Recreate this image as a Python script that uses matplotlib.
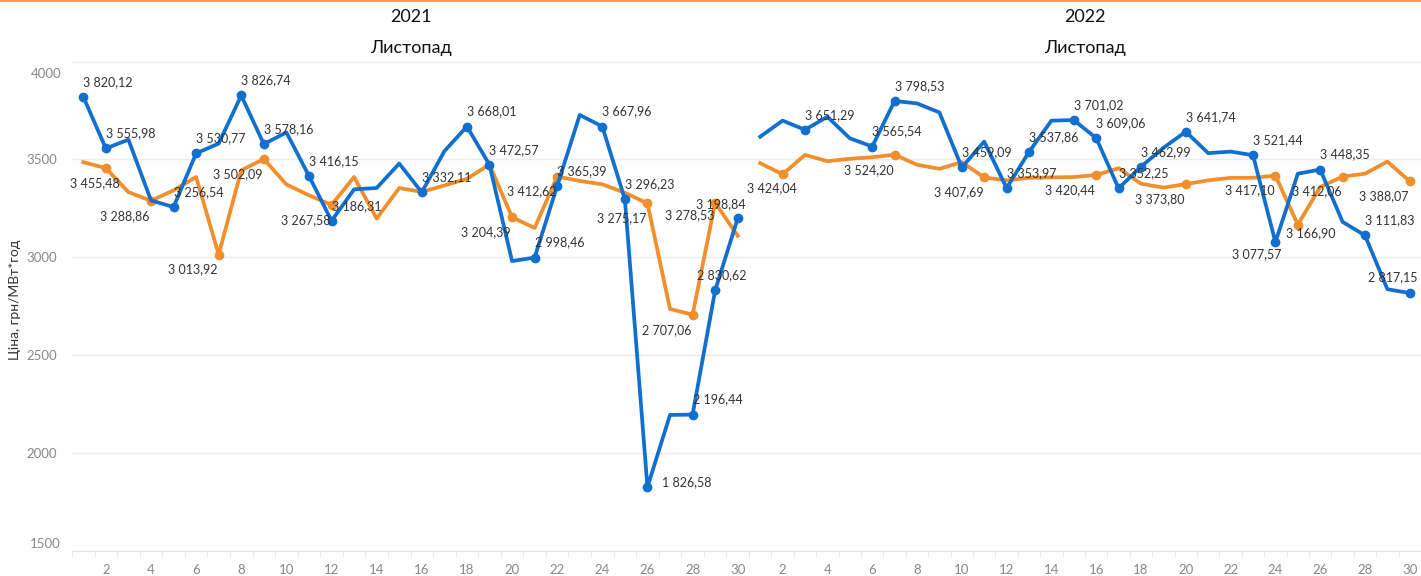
import matplotlib
matplotlib.use('Agg')
import matplotlib.pyplot as plt
from matplotlib.lines import Line2D

plt.rcParams['font.family'] = ['Lato', 'DejaVu Sans']

# data: daily price, November 2021 / November 2022
days = list(range(1, 31))

blue_2021 = [3820.12, 3555.98, 3601, 3291, 3256.54, 3530.77, 3581, 3826.74, 3578.16, 3638,
             3416.15, 3186.31, 3347, 3354, 3479, 3332.11, 3542, 3668.01, 3472.57, 2981,
             2998.46, 3365.39, 3727, 3667.96, 3296.23, 1826.58, 2195, 2196.44, 2830.62, 3198.84]
orange_2021 = [3486, 3455.48, 3333, 3288.86, 3342, 3410, 3013.92, 3444, 3502.09, 3372,
               3317, 3267.58, 3410, 3198, 3354, 3334, 3367, 3401, 3474, 3204.39,
               3150, 3412.62, 3390, 3373, 3330, 3275.17, 2736, 2707.06, 3278.53, 3110]

blue_2022 = [3616, 3698, 3651.29, 3718, 3608, 3565.54, 3798.53, 3786, 3740, 3459.09,
             3591, 3353.97, 3537.86, 3698, 3701.02, 3609.06, 3352.25, 3462.99, 3559, 3641.74,
             3532, 3540, 3521.44, 3077.57, 3427, 3448.35, 3181, 3111.83, 2837, 2817.15]
orange_2022 = [3481, 3424.04, 3523, 3491, 3503, 3511, 3524.20, 3473, 3452, 3486,
               3407.69, 3393, 3406, 3408, 3410, 3420.44, 3455, 3376, 3356, 3373.80,
               3393, 3406, 3406, 3417.10, 3166.90, 3359, 3412.06, 3427, 3489, 3388.07]

# days that carry a marker and a value label
blue_2021_lab = [1, 2, 5, 6, 8, 9, 11, 12, 16, 18, 19, 21, 22, 24, 25, 26, 28, 29, 30]
orange_2021_lab = [2, 4, 7, 9, 12, 20, 22, 26, 28, 29]
blue_2022_lab = [3, 6, 7, 10, 12, 13, 15, 16, 17, 18, 20, 23, 24, 26, 28, 30]
orange_2022_lab = [2, 7, 11, 16, 20, 24, 25, 27, 30]

years = ['2021', '2022']
month = 'Листопад'
ylabel = 'Ціна, грн/МВт*год'

BLUE = '#1170CF'
ORANGE = '#F28E2B'

# label placement: (dx px, dy px downwards, alignment)
default_pos = {'blue': (0, -15, 'left'), 'orange': (-1, 15, 'right')}
special_pos = {
    ('2021', 'blue', 26): (15, -5, 'left'),
    ('2021', 'blue', 29): (7, -15, 'center'),
    ('2021', 'blue', 30): (8, -14, 'right'),
    ('2021', 'orange', 2): (14, 15, 'right'),
    ('2021', 'orange', 29): (-1, 12, 'right'),
    ('2022', 'blue', 24): (6, 12, 'right'),
    ('2022', 'blue', 30): (8, -16, 'right'),
    ('2022', 'orange', 2): (14, 14, 'right'),
    ('2022', 'orange', 25): (-12, 9, 'left'),
}


def fmt(v):
    return f'{v:,.2f}'.replace(',', ' ').replace('.', ',')


def draw_series(ax, year, name, values, lab_days, color, z):
    ax.plot(days, values, color=color, lw=2.7, zorder=z, solid_joinstyle='round')
    xs = [d for d in lab_days]
    ys = [values[d - 1] for d in lab_days]
    ax.plot(xs, ys, 'o', color=color, ms=6, zorder=z)
    for d, v in zip(xs, ys):
        dx, dy, ha = special_pos.get((year, name, d), default_pos[name])
        ax.annotate(fmt(v), xy=(d, v), xytext=(dx, -dy), textcoords='offset pixels',
                    ha=ha, va='center', fontsize=9, color='#333333', zorder=6)


W, H = 1421, 576
fig = plt.figure(figsize=(W / 100, H / 100), dpi=100)
fig.add_artist(Line2D([0, 1], [1 - 1 / H] * 2, transform=fig.transFigure,
                      color='#F4A24C', lw=1.5))

y0, y1 = 551, 57.6
boxes = [(72, 749), (749, 1421)]
series = [(blue_2021, orange_2021, blue_2021_lab, orange_2021_lab),
          (blue_2022, orange_2022, blue_2022_lab, orange_2022_lab)]

for i, ((xl, xr), (b, o, bl, ol)) in enumerate(zip(boxes, series)):
    ax = fig.add_axes([xl / W, 1 - y0 / H, (xr - xl) / W, (y0 - y1) / H])
    draw_series(ax, years[i], 'orange', o, ol, ORANGE, 3)
    draw_series(ax, years[i], 'blue', b, bl, BLUE, 4)
    ax.set_xlim(0.5, 30.5)
    ax.set_ylim(1500, 4020)
    ax.set_yticks([1500, 2000, 2500, 3000, 3500, 4000])
    ax.grid(axis='y', color='#ececec', lw=1)
    ax.set_axisbelow(True)
    for s in ['top', 'left', 'right']:
        ax.spines[s].set_visible(False)
    ax.spines['bottom'].set_color('#e6e6e6')
    ax.set_xticks(list(range(2, 31, 2)))
    ax.set_xticks([d + 0.5 for d in range(0, 31)], minor=True)
    ax.tick_params(axis='x', which='major', length=0, pad=9, labelsize=9.5, labelcolor='#888888')
    ax.tick_params(axis='x', which='minor', length=4, color='#e6e6e6')
    ax.tick_params(axis='y', length=0)
    if i == 0:
        ax.set_yticklabels(['', '2000', '2500', '3000', '3500', ''])
        ax.tick_params(axis='y', pad=11, labelsize=9.5, labelcolor='#888888')
        for val, off in [(4000, -12), (1500, 7)]:
            ax.annotate(str(val), xy=(0, val), xycoords=('axes fraction', 'data'),
                        xytext=(-11, off), textcoords='offset pixels', ha='right',
                        va='center', fontsize=9.5, color='#888888')
    else:
        ax.set_yticklabels([])
    cx = (xl + xr) / 2 / W
    fig.text(cx, 1 - 17 / H, years[i], ha='center', va='center', fontsize=13, color='#111111')
    fig.text(cx, 1 - 48 / H, month, ha='center', va='center', fontsize=13, color='#111111')

fig.text(15 / W, 1 - 300 / H, ylabel, rotation=90, ha='center', va='center',
         fontsize=10, color='#333333')

fig.savefig('out.png', dpi=100)
